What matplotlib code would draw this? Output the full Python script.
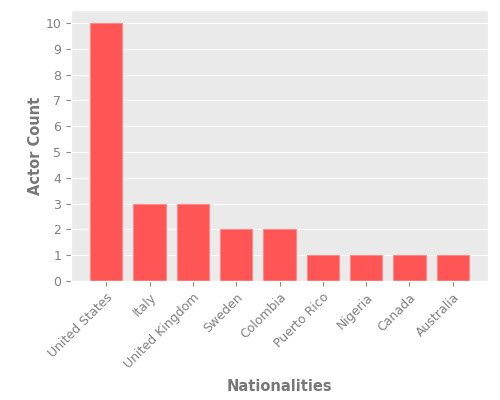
import matplotlib
matplotlib.use("Agg")
import matplotlib.pyplot as plt

# ====== data ======
nationalities = ["United States", "Italy", "United Kingdom", "Sweden", "Colombia",
                 "Puerto Rico", "Nigeria", "Canada", "Australia"]
actor_counts = [10, 3, 3, 2, 2, 1, 1, 1, 1]
y_ticks = list(range(0, 11))

# ====== plot ======
plt.style.use("ggplot")
fig = plt.figure(figsize=(5, 4), dpi=100)
ax = fig.add_axes([0.142, 0.2975, 0.834, 0.6775])
ax.set_facecolor("#EAEAEA")

ax.bar(nationalities, actor_counts, width=0.75, color="#FF5555",
       edgecolor="#FF8A8A", linewidth=0.8)

ax.set_yticks(y_ticks)
ax.set_ylim(0, 10.5)
ax.tick_params(axis="both", colors="#888888", labelsize=9, labelcolor="#808080")
plt.setp(ax.get_xticklabels(), rotation=45, ha="right", rotation_mode="anchor")
ax.grid(axis="x", visible=False)

ax.set_xlabel("Nationalities", fontsize=10.5, fontweight="bold", color="#777777", labelpad=5.5)
ax.set_ylabel("Actor Count", fontsize=10.5, fontweight="bold", color="#777777", labelpad=2)

plt.savefig("out.png")
